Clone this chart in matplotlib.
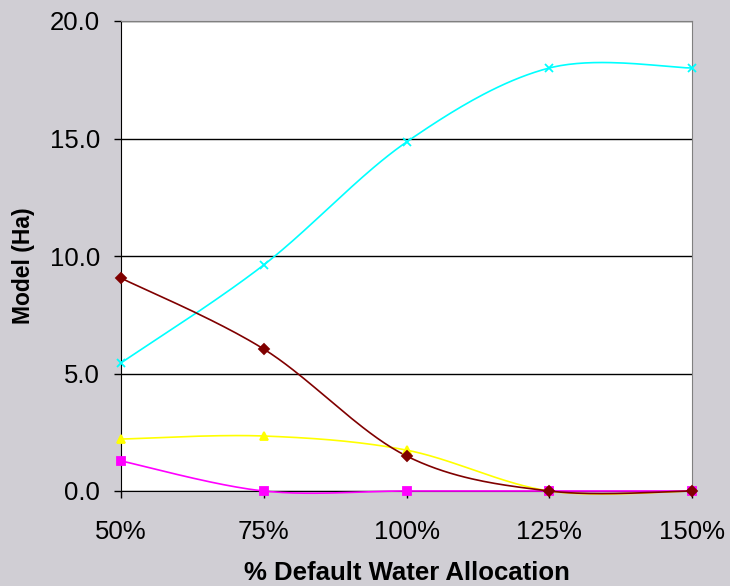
import numpy as np
import matplotlib.pyplot as plt

plt.rcParams['font.family'] = ['Liberation Sans', 'DejaVu Sans']

# Data
categories = ['50%', '75%', '100%', '125%', '150%']
series_red = [9.06, 6.04, 1.49, 0.0, 0.0]
series_magenta = [1.28, 0.0, 0.0, 0.0, 0.0]
series_yellow = [2.21, 2.34, 1.74, 0.0, 0.0]
series_cyan = [5.45, 9.62, 14.85, 18.0, 18.0]
y_ticks = [0, 5, 10, 15, 20]


def smooth(xs, ys, n=40):
    # Excel-style smoothed line: cubic Bezier with Catmull-Rom tangents
    xs = np.asarray(xs, float)
    ys = np.asarray(ys, float)
    px = np.concatenate([[xs[0]], xs, [xs[-1]]])
    py = np.concatenate([[ys[0]], ys, [ys[-1]]])
    out_x, out_y = [], []
    t = np.linspace(0, 1, n)
    for i in range(1, len(px) - 2):
        p0 = np.array([px[i], py[i]])
        p3 = np.array([px[i + 1], py[i + 1]])
        p1 = p0 + (np.array([px[i + 1], py[i + 1]]) - np.array([px[i - 1], py[i - 1]])) / 6
        p2 = p3 - (np.array([px[i + 2], py[i + 2]]) - np.array([px[i], py[i]])) / 6
        b = ((1 - t) ** 3)[:, None] * p0 + (3 * (1 - t) ** 2 * t)[:, None] * p1 \
            + (3 * (1 - t) * t ** 2)[:, None] * p2 + (t ** 3)[:, None] * p3
        out_x.extend(b[:, 0])
        out_y.extend(b[:, 1])
    return out_x, out_y


bg = '#D0CED4'
fig = plt.figure(figsize=(7.30, 5.86), dpi=100)
fig.patch.set_facecolor(bg)
ax = fig.add_axes([121 / 730, 1 - 491 / 586, (692 - 121) / 730, (491 - 21) / 586])
ax.set_facecolor('white')

x = np.arange(len(categories))
styles = [
    (series_cyan, '#00FFFF', 'x', 6),
    (series_yellow, '#FFFF00', '^', 6),
    (series_magenta, '#FF00FF', 's', 5.5),
    (series_red, '#800000', 'D', 5),
]
for vals, color, marker, ms in styles:
    sx, sy = smooth(x, vals)
    ax.plot(sx, sy, color=color, lw=1.2, zorder=3, clip_on=False)
    ax.plot(x, vals, linestyle='none', marker=marker, color=color, ms=ms,
            mew=1.3, zorder=4, clip_on=False)

ax.set_xlim(0, 4)
ax.set_ylim(0, 20)
ax.set_yticks(y_ticks)
ax.set_yticklabels([f'{v:.1f}' for v in y_ticks])
ax.set_xticks(x)
ax.set_xticklabels(categories)
ax.yaxis.grid(True, color='black', lw=1)
ax.set_axisbelow(True)
ax.tick_params(axis='both', direction='out', length=5, width=1, labelsize=18.5,
               colors='black')
ax.tick_params(axis='y', pad=10)
ax.tick_params(axis='x', pad=16)

for side in ['top', 'right']:
    ax.spines[side].set_color('#808080')
for side in ['left', 'bottom']:
    ax.spines[side].set_color('black')

ax.set_xlabel('% Default Water Allocation', fontsize=18.5, fontweight='bold')
ax.set_ylabel('Model (Ha)', fontsize=16.5, fontweight='bold')
ax.xaxis.label.set_va('center')
ax.yaxis.label.set_va('center')
ax.xaxis.set_label_coords(0.5, (491 - 573) / 470)
ax.yaxis.set_label_coords((23 - 121) / 571, (491 - 266) / 470)

fig.savefig('out.png', dpi=100, facecolor=bg)
